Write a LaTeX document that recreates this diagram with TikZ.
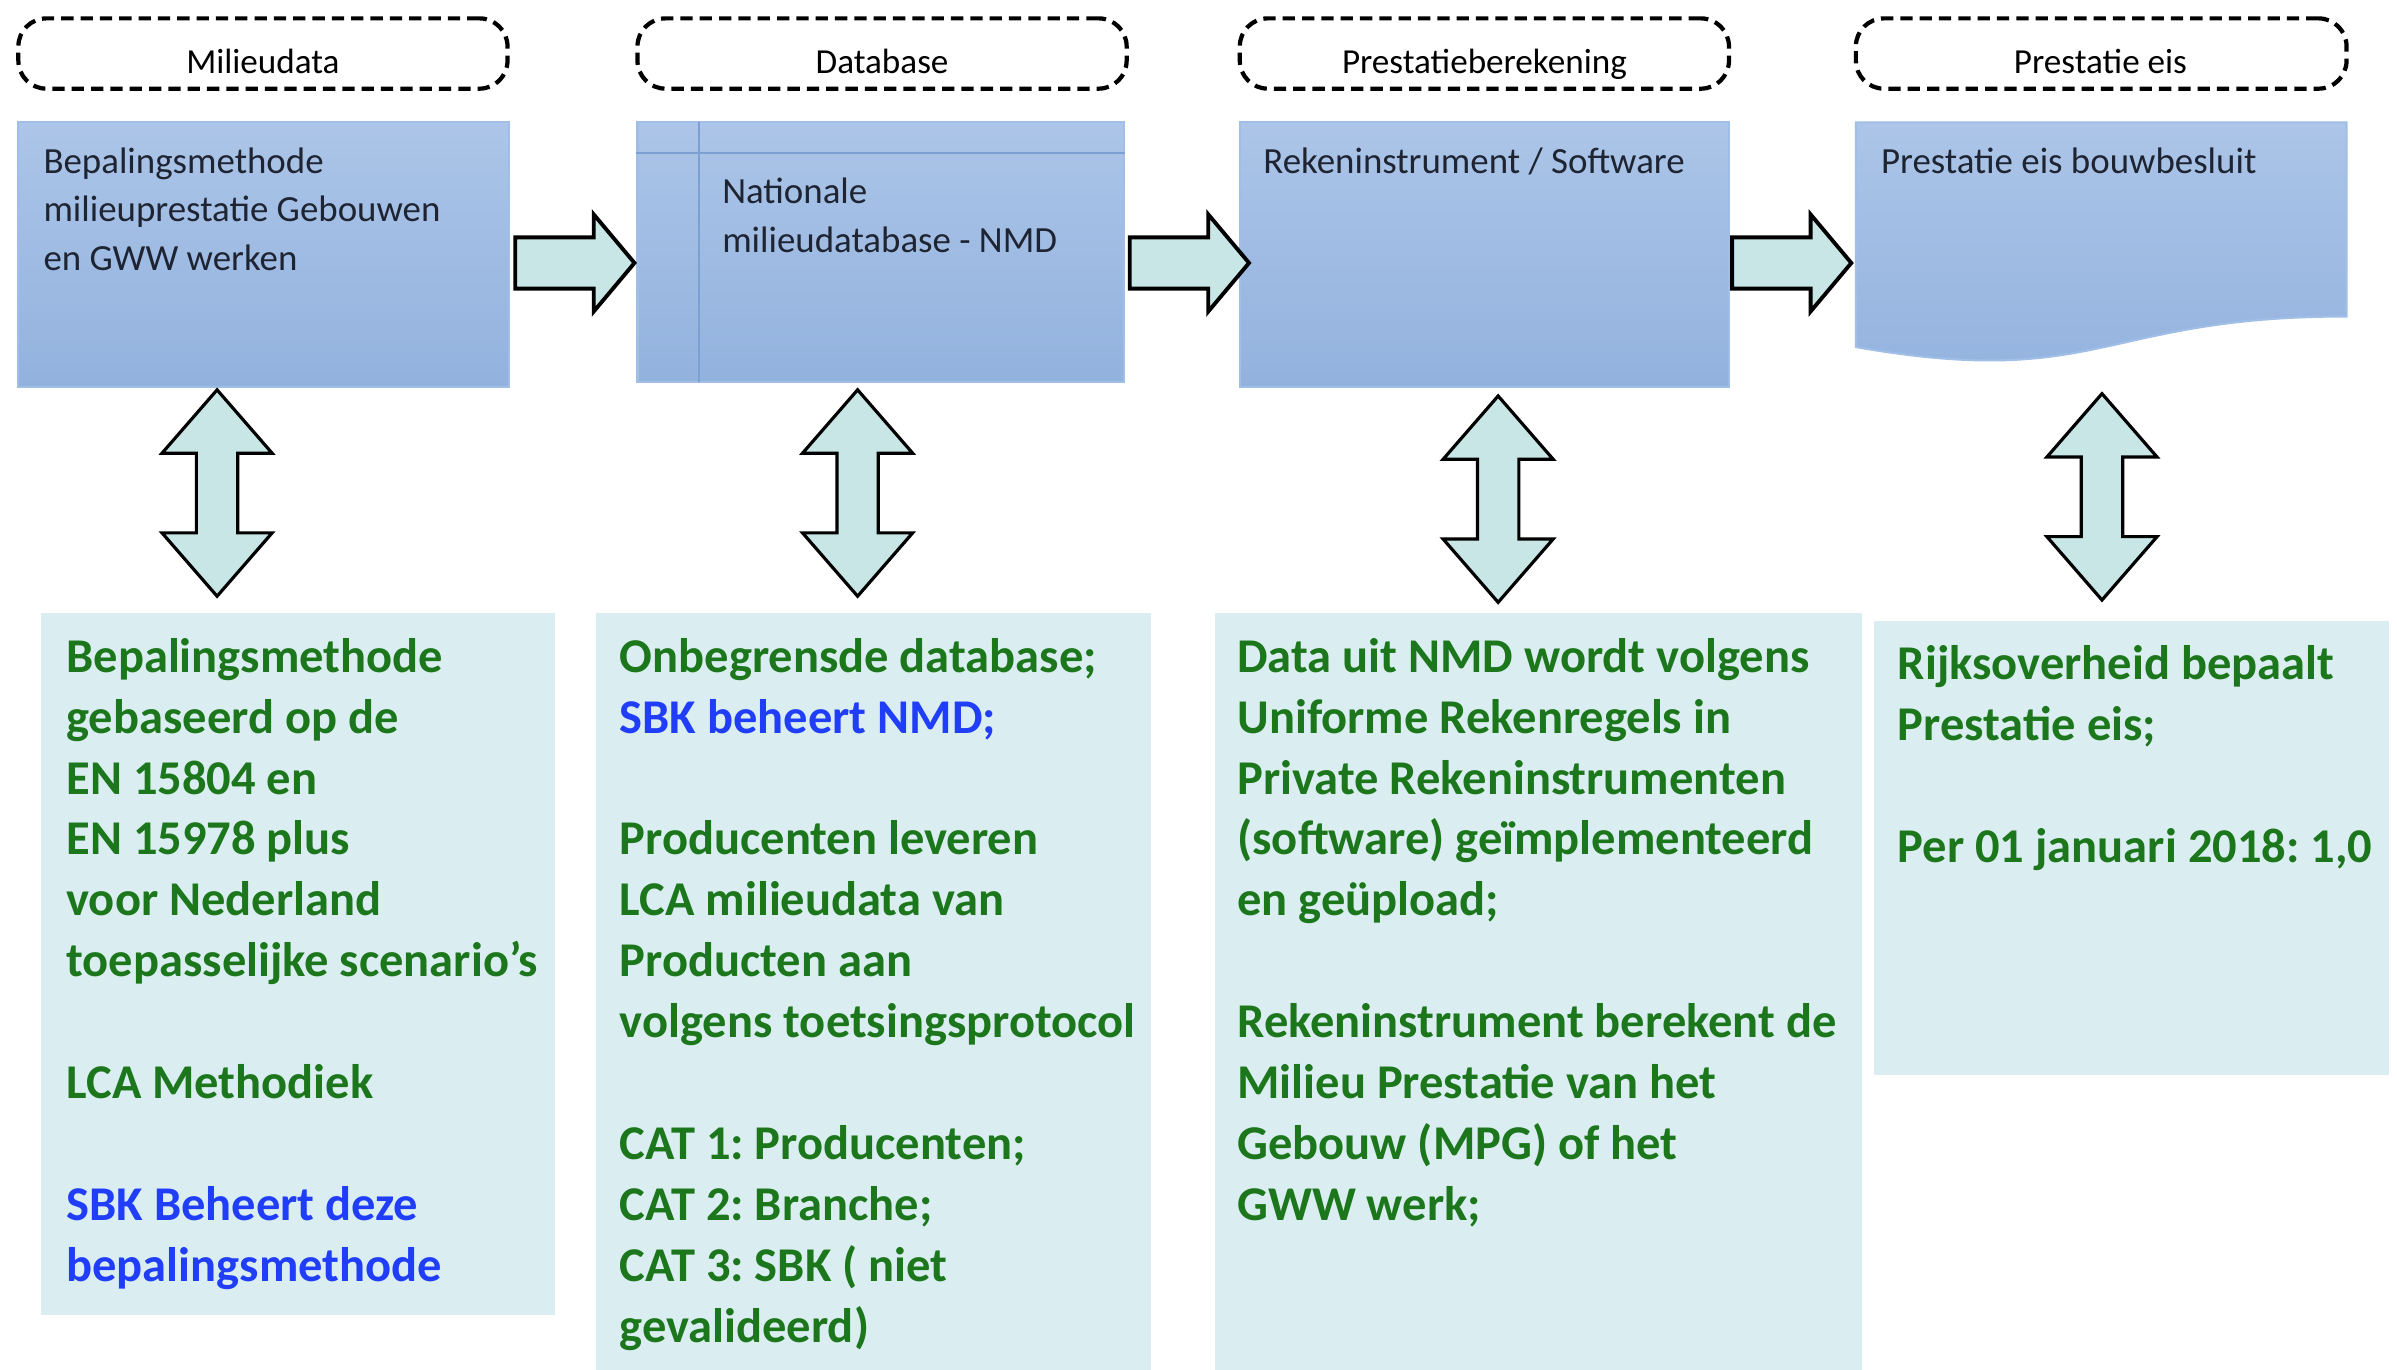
\documentclass[tikz,border=0pt]{standalone}
\usepackage{fontspec}
\setmainfont{Carlito}
\usetikzlibrary{shapes.arrows,fit}

\definecolor{procblue}{RGB}{146,178,222}
\definecolor{proctop}{RGB}{172,197,232}
\definecolor{procline}{RGB}{160,190,230}
\definecolor{procdark}{RGB}{125,160,210}
\definecolor{proctext}{RGB}{30,36,50}
\definecolor{infobg}{RGB}{218,237,240}
\definecolor{linkfill}{RGB}{200,230,230}
\definecolor{notegreen}{RGB}{28,118,28}
\definecolor{noteblue}{RGB}{32,62,250}

\def\u{0.015287cm}
\newlength\unitlen
\setlength\unitlen{0.015287cm}
\def\gap{17.33pt}

\tikzset{
  phase/.style={draw=black, line width=1.2pt, dash pattern=on 3.5pt off 2pt,
    rounded corners=8, inner sep=0},
  phaselabel/.style={anchor=base, inner sep=0, font=\fontsize{10}{12}\selectfont},
  procbox/.style={draw=procline, line width=0.6pt, top color=proctop,
    bottom color=procblue, inner sep=0},
  proclabel/.style={anchor=north west, inner sep=0, align=left, text=proctext,
    font=\fontsize{10.5}{13.9}\selectfont},
  infobox/.style={fill=infobg, inner sep=0},
  infolabel/.style={anchor=north west, inner sep=0, align=left, text=notegreen,
    font=\fontsize{13.8}{17.33}\selectfont\bfseries},
  flowarrow/.style={single arrow, draw=black, fill=linkfill, line width=1.1pt,
    inner sep=0, minimum height=78*\u, minimum width=61*\u,
    single arrow head extend=15*\u, single arrow tip angle=100},
  updown/.style={double arrow, draw=black, fill=linkfill, line width=0.9pt,
    inner sep=0, rotate=90, minimum height=135*\u, minimum width=70*\u,
    double arrow head extend=22.5*\u, double arrow tip angle=82}
}

\begin{document}
\frenchspacing
\begin{tikzpicture}[x=\u, y=-\u]
  \useasboundingbox (0,0) rectangle (1568,896);

  % phase headers
  \node[phase, fit={(12,12) (332,58)}] (hdrA) {};
  \node[phase, fit={(417,12) (737,58)}] (hdrB) {};
  \node[phase, fit={(811,12) (1131,58)}] (hdrC) {};
  \node[phase, fit={(1214,12) (1535,58)}] (hdrD) {};
  \node[phaselabel] (hdrAtext) at (172,48) {Milieudata};
  \node[phaselabel] (hdrBtext) at (577,48) {Database};
  \node[phaselabel] (hdrCtext) at (971,48) {Prestatieberekening};
  \node[phaselabel] (hdrDtext) at (1374,48) {Prestatie eis};

  % process boxes
  \node[procbox, fit={(12,80) (333,253)}] (procA) {};
  \node[procbox, fit={(417,80) (735,250)}] (procB) {};
  \node[procbox, fit={(811,80) (1131,253)}] (procC) {};
  \path[procbox] (1214,80) -- (1535,80) -- (1535,207)
    .. controls (1374,207) and (1374,255) .. (1214,227) -- cycle;
  \coordinate (procD) at (1374,80);
  % internal storage lines
  \draw[procdark, line width=0.6pt] (procB.west |- 0,100) -- (procB.east |- 0,100);
  \draw[procdark, line width=0.6pt] (457,80) -- (457,250);

  \node[proclabel] (procAtext) at (28,96) {Bepalingsmethode\\milieuprestatie Gebouwen\\en GWW werken};
  \node[proclabel] (procBtext) at (472,116) {Nationale\\milieudatabase - NMD};
  \node[proclabel] (procCtext) at (826,96) {Rekeninstrument / Software};
  \node[proclabel] (procDtext) at (1230,96) {Prestatie eis bouwbesluit};

  % flow arrows
  \node[flowarrow] (flowAB) at (369,172) {\rule{0pt}{31\unitlen}};
  \node[flowarrow] (flowBC) at (771,172) {\rule{0pt}{31\unitlen}};
  \node[flowarrow] (flowCD) at (1165,172) {\rule{0pt}{31\unitlen}};

  % info boxes
  \node[infobox, fit={(27,401) (363,860)}] (infoA) {};
  \node[infobox, fit={(390,401) (753,896)}] (infoB) {};
  \node[infobox, fit={(795,401) (1218,896)}] (infoC) {};
  \node[infobox, fit={(1226,406) (1563,703)}] (infoD) {};

  % links between boxes
  \node[updown] (linkA) at (142,322.5) {\rule{0pt}{25\unitlen}};
  \node[updown] (linkB) at (561,322.5) {\rule{0pt}{25\unitlen}};
  \node[updown] (linkC) at (980,326.5) {\rule{0pt}{25\unitlen}};
  \node[updown] (linkD) at (1375,325) {\rule{0pt}{25\unitlen}};

  \node[infolabel] (infoAtext) at (43,417) {Bepalingsmethode\\gebaseerd op de\\EN 15804 en\\EN 15978 plus\\voor Nederland\\toepasselijke scenario’s\\[\gap]LCA Methodiek\\[\gap]\textcolor{noteblue}{SBK Beheert deze}\\\textcolor{noteblue}{bepalingsmethode}};
  \node[infolabel] (infoBtext) at (405,417) {Onbegrensde database;\\\textcolor{noteblue}{SBK beheert NMD;}\\[\gap]Producenten leveren\\LCA milieudata van\\Producten aan\\volgens toetsingsprotocol\\[\gap]CAT 1: Producenten;\\CAT 2: Branche;\\CAT 3: SBK ( niet\\gevalideerd)};
  \node[infolabel] (infoCtext) at (809,417) {Data uit NMD wordt volgens\\Uniforme Rekenregels in\\Private Rekeninstrumenten\\(software) geïmplementeerd\\en geüpload;\\[\gap]Rekeninstrument berekent de\\Milieu Prestatie van het\\Gebouw (MPG) of het\\GWW werk;};
  \node[infolabel] (infoDtext) at (1241,422) {Rijksoverheid bepaalt\\Prestatie eis;\\[\gap]Per 01 januari 2018: 1,0};
\end{tikzpicture}
\end{document}
